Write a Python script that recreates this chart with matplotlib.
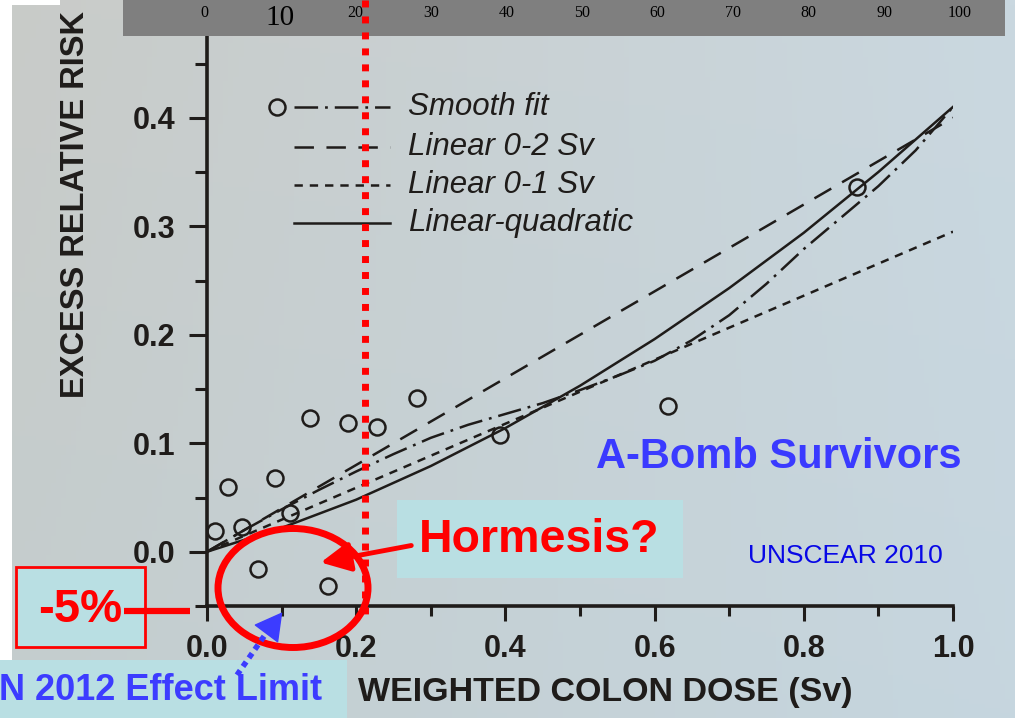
import numpy as np
import matplotlib
matplotlib.use("Agg")
import matplotlib.pyplot as plt
from matplotlib.patches import Rectangle, Ellipse, FancyArrowPatch
from matplotlib.lines import Line2D
from matplotlib.transforms import Affine2D, blended_transform_factory
from matplotlib import font_manager

plt.rcParams['font.family'] = ['Liberation Sans', 'DejaVu Sans']
plt.rcParams['lines.scale_dashes'] = False

# ---- data: excess relative risk of colon cancer vs weighted colon dose ----
dose_points = [0.011, 0.028, 0.047, 0.068, 0.091, 0.111, 0.138, 0.162,
               0.189, 0.228, 0.281, 0.393, 0.618, 0.871]
err_points = [0.019, 0.060, 0.023, -0.016, 0.068, 0.036, 0.123, -0.032,
              0.119, 0.115, 0.142, 0.108, 0.134, 0.336]

smooth_dose = [0.00, 0.05, 0.10, 0.15, 0.20, 0.25, 0.30, 0.35, 0.40, 0.45, 0.50,
               0.55, 0.60, 0.65, 0.70, 0.75, 0.80, 0.85, 0.90, 0.95, 1.00]
smooth_err = [0.000, 0.020, 0.039, 0.057, 0.074, 0.090, 0.105, 0.117, 0.127, 0.137,
              0.149, 0.162, 0.176, 0.195, 0.218, 0.247, 0.279, 0.308, 0.337, 0.370, 0.410]

linear_dose = [0.0, 1.0]
linear02_err = [0.0, 0.400]
linear01_err = [0.0, 0.295]

lq_dose = [0.0, 0.1, 0.2, 0.3, 0.4, 0.5, 0.6, 0.7, 0.8, 0.9, 1.0]
lq_err = [0.000, 0.022, 0.048, 0.079, 0.114, 0.153, 0.196, 0.243, 0.294, 0.350, 0.410]

legend_labels = ['Smooth fit', 'Linear 0-2 Sv', 'Linear 0-1 Sv', 'Linear-quadratic']

x_major = [0.0, 0.2, 0.4, 0.6, 0.8, 1.0]
x_major_labels = ['0.0', '0.2', '0.4', '0.6', '0.8', '1.0']
x_minor = [0.1, 0.3, 0.5, 0.7, 0.9]
y_major = [0.0, 0.1, 0.2, 0.3, 0.4]
y_major_labels = ['0.0', '0.1', '0.2', '0.3', '0.4']
y_minor = [-0.05, 0.05, 0.15, 0.25, 0.35, 0.45]

top_scale = [0, 10, 20, 30, 40, 50, 60, 70, 80, 90, 100]
effect_line_dose = 0.212

# ---- figure ----
W, H = 1015, 718
fig = plt.figure(figsize=(W / 100, H / 100), dpi=100)
pix = Affine2D().scale(1 / W, -1 / H).translate(0, 1) + fig.transFigure

ink = '#1f1c1a'
red = '#ff0000'
cyan = '#b9dfe3'

# paper background
bg = fig.add_axes([0, 0, 1, 1], zorder=-2)
bg.axis('off')
tl = np.array([201, 203, 200]); tr = np.array([202, 216, 224])
bl = np.array([196, 205, 206]); br = np.array([198, 214, 223])
u = np.linspace(0, 1, 200)[None, :, None]
v = np.linspace(0, 1, 150)[:, None, None]
img = (1 - v) * ((1 - u) * tl + u * tr) + v * ((1 - u) * bl + u * br)
bg.imshow(img / 255, extent=[0, 1, 0, 1], aspect='auto', origin='upper')
bg.set_xlim(0, 1); bg.set_ylim(0, 1)

# main axes
ymin, ymax = -0.05, 0.5
y0_px = 606
top_px = y0_px - (ymax - ymin) * 1085
ax = fig.add_axes([207 / W, 1 - y0_px / H, (953 - 207) / W, (y0_px - top_px) / H], zorder=0)
ax.patch.set_alpha(0)
ax.set_xlim(0, 1)
ax.set_ylim(ymin, ymax)
for side in ('top', 'right'):
    ax.spines[side].set_visible(False)
for side in ('left', 'bottom'):
    ax.spines[side].set_linewidth(2.6)
    ax.spines[side].set_color(ink)

ax.set_xticks(x_major, labels=x_major_labels)
ax.set_xticks(x_minor, minor=True)
ax.set_yticks(y_major, labels=y_major_labels)
ax.set_yticks(y_minor, minor=True)
ax.tick_params(axis='both', which='both', direction='out', width=2.2, color=ink,
               labelcolor=ink, labelsize=22)
ax.tick_params(axis='x', which='major', length=11, pad=9)
ax.tick_params(axis='x', which='minor', length=7)
ax.tick_params(axis='y', which='major', length=13, pad=10)
ax.tick_params(axis='y', which='minor', length=8.5)
for lab in ax.get_xticklabels() + ax.get_yticklabels():
    lab.set_fontweight('bold')

ax.set_xlabel('WEIGHTED COLON DOSE (Sv)', fontsize=24.5, fontweight='bold', color=ink)
ax.xaxis.set_label_coords((605 - 207) / 746, -(693 - y0_px) / (y0_px - top_px))
ax.xaxis.label.set_va('center')

names = {f.name for f in font_manager.fontManager.ttflist}
if 'Liberation Sans Narrow' in names:
    ax.set_ylabel('EXCESS RELATIVE RISK', fontsize=28.5, fontweight='bold', color=ink,
                  family=['Liberation Sans Narrow', 'DejaVu Sans'])
else:
    ax.set_ylabel('EXCESS RELATIVE RISK', fontsize=23.5, fontweight='bold', color=ink)
ax.yaxis.set_label_coords((75 - 207) / 746, (y0_px - 205) / (y0_px - top_px))
ax.yaxis.label.set_va('center')

style_smooth = dict(dashes=[17, 5, 2, 5])
style_lin02 = dict(dashes=[14, 9])
style_lin01 = dict(dashes=[6, 5])
style_lq = dict(linestyle='-')
common = dict(color=ink, lw=1.8, dash_capstyle='butt')

ax.plot(linear_dose, linear02_err, **common, **style_lin02)
ax.plot(linear_dose, linear01_err, **common, **style_lin01)
ax.plot(smooth_dose, smooth_err, **common, **style_smooth)
ax.plot(lq_dose, lq_err, **common, **style_lq)
ax.plot(dose_points, err_points, 'o', ms=11.5, mfc='none', mec=ink, mew=1.8, zorder=5)

# legend drawn in the upper-left of the plot area
leg_y = [107, 147, 185, 223]
styles = [style_smooth, style_lin02, style_lin01, style_lq]
for yy, lab, st in zip(leg_y, legend_labels, styles):
    fig.add_artist(Line2D([294, 390], [yy, yy], transform=pix, **common, **st))
    fig.text(408, yy, lab, transform=pix, fontsize=22.5, style='italic',
             color=ink, va='center', ha='left')
fig.add_artist(Line2D([277], [leg_y[0]], transform=pix, marker='o', ms=11.5,
                      mfc='none', mec=ink, mew=1.8, linestyle='none'))

# grey dose band along the top
band = fig.add_axes([123 / W, 1 - 36 / H, (1005 - 123) / W, 36 / H], zorder=1)
band.set_facecolor('#7f7f7f')
band.set_xlim(-10.71, 105.95)
band.set_ylim(0, 1)
band.set_xticks([]); band.set_yticks([])
for s in band.spines.values():
    s.set_visible(False)
for val in top_scale:
    big = val == 10
    band.text(val, 0.5 if big else 0.64, str(val), ha='center', va='center',
              family=['Liberation Serif', 'DejaVu Serif'], fontsize=21 if big else 11.5,
              color='black')

# photo edges
fig.add_artist(Rectangle((0, 0), 60, 5, transform=pix, facecolor='white', edgecolor='none', zorder=6))
fig.add_artist(Rectangle((0, 0), 12, 660, transform=pix, facecolor='white', edgecolor='none', zorder=6))

# vertical red dotted line
vline_tr = blended_transform_factory(ax.transData, pix)
fig.add_artist(Line2D([effect_line_dose, effect_line_dose], [0, 618], transform=vline_tr,
                      color=red, lw=5, dashes=[5, 6.5], dash_capstyle='butt', zorder=7))

# hormesis annotation
fig.add_artist(Ellipse((293, 588), 150, 119, transform=pix, fill=False,
                       edgecolor=red, lw=5, zorder=7))
fig.add_artist(Rectangle((397, 500), 286, 78, transform=pix, facecolor=cyan,
                         edgecolor='none', zorder=6))
fig.text(539, 540, 'Hormesis?', transform=pix, fontsize=33.5, fontweight='bold',
         color=red, ha='center', va='center', zorder=8)
fig.add_artist(FancyArrowPatch((414, 545), (318, 563), transform=pix,
                               arrowstyle='-|>,head_length=0.9,head_width=0.45',
                               mutation_scale=20, color=red, lw=3.5, zorder=8))

# -5% annotation
fig.add_artist(Rectangle((16, 567), 129, 80, transform=pix, facecolor=cyan,
                         edgecolor=red, lw=2, zorder=6))
fig.add_artist(Line2D([124, 190], [611, 611], transform=pix, color=red, lw=4.5,
                      solid_capstyle='butt', zorder=7))
fig.text(80, 610, '-5%', transform=pix, fontsize=34, fontweight='bold', color=red,
         ha='center', va='center', zorder=8)

# effect-limit annotation
fig.add_artist(Rectangle((0, 660), 347, 58, transform=pix, facecolor=cyan,
                         edgecolor='none', zorder=6))
fig.text(-1, 690, 'N 2012 Effect Limit', transform=pix, fontsize=26, fontweight='bold',
         color='#3c3cff', ha='left', va='center', zorder=8)
fig.add_artist(Line2D([237, 274], [675, 622], transform=pix, color='#3c3cff', lw=4,
                      dashes=[4, 3.5], dash_capstyle='butt', zorder=8))
fig.add_artist(FancyArrowPatch((272, 626), (284, 610), transform=pix,
                               arrowstyle='-|>,head_length=0.9,head_width=0.5',
                               mutation_scale=20, color='#3c3cff', lw=1, zorder=8))

# captions
fig.text(779, 457, 'A-Bomb Survivors', transform=pix, fontsize=30, fontweight='bold',
         color='#3a3aff', ha='center', va='center', zorder=8)
fig.text(845, 556, 'UNSCEAR 2010', transform=pix, fontsize=19, color='#0808e6',
         ha='center', va='center', zorder=8)

fig.savefig('out.png', dpi=100)
